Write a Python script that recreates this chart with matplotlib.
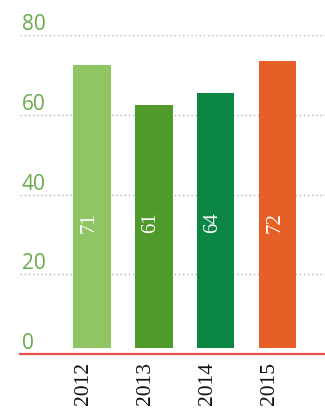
import matplotlib
matplotlib.use("Agg")
import matplotlib.pyplot as plt
import matplotlib.transforms as mtransforms
import numpy as np

years = ["2012", "2013", "2014", "2015"]
values = [71, 61, 64, 72]
yticks = [0, 20, 40, 60, 80]
bar_colors = ["#90c563", "#4f9a2b", "#0b8743", "#e65f27"]

fig = plt.figure(figsize=(3.25, 4.09), dpi=100)
ax = fig.add_axes([20/325, (409-354)/409, 305/325, 319/409])
ax.set_xlim(-1.16, 3.76)
ax.set_ylim(0, 80)
for s in ax.spines.values():
    s.set_visible(False)
ax.set_xticks([])
ax.set_yticks([])

x = np.arange(len(years))
# grid lines
for t in yticks[1:]:
    ax.axhline(t, color="#b0b0b0", lw=1.0, ls=(0, (1, 2)), zorder=1)
ax.axhline(0, color="#e5514a", lw=1.6, zorder=3, clip_on=False)

ax.bar(x, values, width=0.6, bottom=1.5, color=bar_colors, zorder=2)

# y tick labels above grid lines
up = mtransforms.offset_copy(ax.get_yaxis_transform(), fig=fig, x=0, y=0, units="points")
for t in yticks:
    ax.text(0.005, t, str(t), transform=up, ha="left", va="bottom",
            color="#6aaa4b", fontsize=15, family="Open Sans")

# value labels inside bars
for xi, v in zip(x, values):
    ax.text(xi - 0.05, 33, str(v), rotation=90, ha="center", va="center",
            color="white", fontsize=15, family="Liberation Serif")

# year labels
lab = mtransforms.offset_copy(ax.transData, fig=fig, x=-6, y=-6, units="points")
for xi, yr in zip(x, years):
    ax.text(xi, 0, yr, rotation=90, ha="center", va="top", transform=lab,
            color="#111111", fontsize=15.5, family="Liberation Serif")

fig.savefig("out.png", dpi=100)
